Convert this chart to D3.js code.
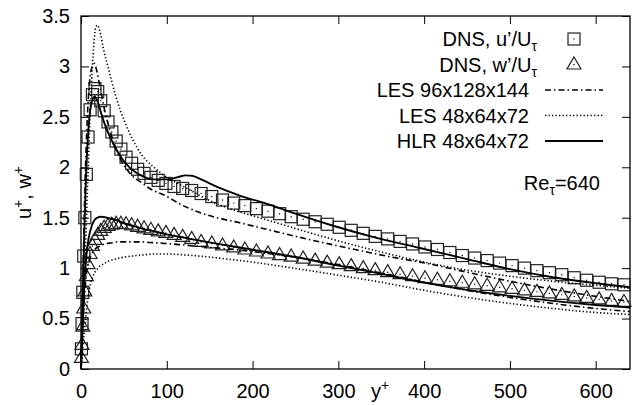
<!DOCTYPE html>
<html>
<head>
<meta charset="utf-8">
<script src="https://cdn.jsdelivr.net/npm/d3@7"></script>
<style>
  body { margin: 0; background: #fff; }
  svg { display: block; font-family: "Liberation Sans", Arial, sans-serif; }
</style>
</head>
<body>
<div id="chart"></div>
<script>
// DNS profiles (markers)
const dnsY = [0.5, 1.2, 2.1, 3.2, 4.5, 6.2, 8.2, 10.6, 13.3, 16.3, 19.5, 23, 27, 31.5, 36, 41, 46.5, 52.5, 59, 66,
    73.5, 81.5, 90, 99, 108.5, 118.5, 129, 140, 152.5, 165, 178, 191, 204.5, 218, 231.5, 245, 259, 273, 287, 301,
    315, 329, 343, 357.5, 372, 386.5, 401, 415.5, 430, 444.5, 459, 473.5, 488, 502.5, 517, 531.5, 546, 560.5, 575,
    589.5, 604, 618.5, 633];
const dnsU = [0.2, 0.45, 0.76, 1.12, 1.5, 1.93, 2.3, 2.57, 2.72, 2.78, 2.75, 2.66, 2.56, 2.45, 2.35, 2.26, 2.18, 2.10, 2.04, 1.98,
    1.94, 1.90, 1.87, 1.84, 1.81, 1.79, 1.77, 1.74, 1.71, 1.675, 1.645, 1.62, 1.59, 1.565, 1.54, 1.51, 1.485, 1.46, 1.435, 1.405,
    1.375, 1.345, 1.315, 1.29, 1.265, 1.24, 1.21, 1.185, 1.155, 1.125, 1.10, 1.075, 1.05, 1.025, 1.0, 0.975, 0.955, 0.935, 0.905,
    0.88, 0.86, 0.845, 0.835];
const dnsW = [0.11, 0.24, 0.42, 0.6, 0.77, 0.92, 1.04, 1.14, 1.22, 1.28, 1.33, 1.37, 1.40, 1.42, 1.43, 1.44, 1.44, 1.435, 1.425, 1.41,
    1.395, 1.38, 1.365, 1.35, 1.33, 1.31, 1.29, 1.26, 1.245, 1.225, 1.205, 1.185, 1.165, 1.145, 1.13, 1.115, 1.095, 1.075, 1.055, 1.04,
    1.02, 1.0, 0.98, 0.96, 0.94, 0.92, 0.90, 0.885, 0.87, 0.855, 0.84, 0.825, 0.81, 0.795, 0.78, 0.765, 0.75, 0.735, 0.72,
    0.705, 0.69, 0.675, 0.665];

// LES 96x128x144 (dash-dot)
const les96Y = [0, 2, 4, 6, 8, 10, 13, 15.5, 18, 22, 28, 35, 45, 58, 72, 80, 98, 119, 139, 158, 185, 209, 263, 300, 333, 368, 395, 450, 500, 550, 600, 640];
const les96U = [0, 0.8, 1.6, 2.2, 2.6, 2.85, 3.0, 3.03, 2.97, 2.8, 2.55, 2.33, 2.1, 1.93, 1.84, 1.79, 1.72, 1.62, 1.55, 1.50, 1.45, 1.40, 1.29, 1.22, 1.16, 1.10, 1.06, 0.96, 0.87, 0.79, 0.72, 0.67];
const les96W = [0, 0.4, 0.72, 0.92, 1.03, 1.09, 1.15, 1.18, 1.20, 1.22, 1.24, 1.25, 1.26, 1.26, 1.26, 1.255, 1.245, 1.23, 1.215, 1.20, 1.18, 1.155, 1.09, 1.035, 0.98, 0.92, 0.87, 0.78, 0.71, 0.65, 0.60, 0.57];

// LES 48x64x72 (dotted)
const les48Y = [0, 4, 8, 11, 14, 17, 19, 22, 26, 32, 40, 51, 60, 71, 85, 100, 115, 130, 150, 170, 200, 224, 263, 300, 350, 400, 450, 500, 550, 600, 640];
const les48U = [0, 0.9, 1.9, 2.6, 3.1, 3.38, 3.41, 3.35, 3.18, 2.98, 2.72, 2.45, 2.28, 2.12, 2.0, 1.9, 1.83, 1.76, 1.67, 1.60, 1.52, 1.46, 1.36, 1.27, 1.16, 1.06, 0.98, 0.92, 0.87, 0.83, 0.80];
const les48W = [0, 0.38, 0.7, 0.84, 0.92, 0.97, 0.99, 1.02, 1.04, 1.07, 1.09, 1.11, 1.12, 1.13, 1.14, 1.14, 1.135, 1.125, 1.11, 1.09, 1.06, 1.03, 0.98, 0.93, 0.86, 0.78, 0.71, 0.65, 0.60, 0.56, 0.54];

// HLR 48x64x72 (solid)
const hlrY = [0, 2, 4, 6, 9, 13, 16, 19, 23, 28, 35, 43, 52, 62, 72, 85, 100, 112, 122, 130, 140, 160, 185, 216, 250, 294, 340, 395, 450, 500, 550, 600, 640];
const hlrU = [0, 0.7, 1.4, 1.95, 2.42, 2.66, 2.70, 2.66, 2.55, 2.42, 2.28, 2.15, 2.04, 1.96, 1.91, 1.88, 1.88, 1.90, 1.92, 1.915, 1.88, 1.80, 1.72, 1.64, 1.54, 1.42, 1.31, 1.20, 1.09, 0.99, 0.91, 0.85, 0.81];
const hlrW = [0, 0.45, 0.85, 1.1, 1.3, 1.43, 1.48, 1.5, 1.51, 1.505, 1.49, 1.47, 1.44, 1.415, 1.39, 1.365, 1.335, 1.315, 1.30, 1.285, 1.27, 1.24, 1.205, 1.16, 1.11, 1.035, 0.96, 0.865, 0.785, 0.725, 0.675, 0.635, 0.61];

const xTicks = [0, 100, 200, 300, 400, 500, 600];
const yTicks = [0, 0.5, 1, 1.5, 2, 2.5, 3, 3.5];

const W = 639, H = 405;
const svg = d3.select("#chart").append("svg")
    .attr("width", W)
    .attr("height", H);

svg.append("rect").attr("width", W).attr("height", H).attr("fill", "#fff");

const x = d3.scaleLinear().domain([0, 640]).range([81, 630]);
const y = d3.scaleLinear().domain([0, 3.5]).range([369, 16]);

const FONT = "20px";

// Axes, ticks pointing inward on all four sides
const styleAxis = g => {
    g.select(".domain").remove();
    g.attr("font-family", null).attr("font-size", null);
    g.selectAll("line").attr("stroke", "#000").attr("stroke-width", 1);
    g.selectAll("text").attr("fill", "#000").style("font-size", FONT);
};

svg.append("g")
    .attr("transform", `translate(0,${y(0)})`)
    .call(d3.axisBottom(x).tickValues(xTicks).tickSizeInner(-8).tickSizeOuter(0).tickPadding(15))
    .call(styleAxis);

svg.append("g")
    .attr("transform", `translate(0,${y(3.5)})`)
    .call(d3.axisTop(x).tickValues(xTicks).tickSizeInner(-8).tickSizeOuter(0).tickFormat(""))
    .call(styleAxis);

svg.append("g")
    .attr("transform", `translate(${x(0)},0)`)
    .call(d3.axisLeft(y).tickValues(yTicks).tickSizeInner(-8).tickSizeOuter(0).tickPadding(11).tickFormat(d => d))
    .call(styleAxis);

svg.append("g")
    .attr("transform", `translate(${x(640)},0)`)
    .call(d3.axisRight(y).tickValues(yTicks).tickSizeInner(-8).tickSizeOuter(0).tickFormat(""))
    .call(styleAxis);

// frame
svg.append("rect")
    .attr("x", x(0))
    .attr("y", y(3.5))
    .attr("width", x(640) - x(0))
    .attr("height", y(0) - y(3.5))
    .attr("fill", "none")
    .attr("stroke", "#000")
    .attr("stroke-width", 1.3);

// Axis labels
const xl = svg.append("text")
    .attr("x", 371)
    .attr("y", 398)
    .style("font-size", FONT);
xl.append("tspan").text("y");
xl.append("tspan").attr("dy", -8).style("font-size", "14px").text("+");

const yl = svg.append("text")
    .attr("transform", `translate(31,${(y(0) + y(3.5)) / 2}) rotate(-90)`)
    .attr("text-anchor", "middle")
    .style("font-size", FONT);
yl.append("tspan").text("u");
yl.append("tspan").attr("dy", -8).style("font-size", "14px").text("+");
yl.append("tspan").attr("dy", 8).text(", w");
yl.append("tspan").attr("dy", -8).style("font-size", "14px").text("+");

// Markers
const square = (g, cx, cy) => {
    g.append("rect")
        .attr("x", cx - 6).attr("y", cy - 6)
        .attr("width", 12).attr("height", 12)
        .attr("fill", "none").attr("stroke", "#222").attr("stroke-width", 1.2);
    g.append("circle").attr("cx", cx).attr("cy", cy).attr("r", 0.7).attr("fill", "#000");
};
const triangle = (g, cx, cy) => {
    g.append("path")
        .attr("d", `M${cx},${cy - 7.5}L${cx + 7},${cy + 4.5}L${cx - 7},${cy + 4.5}Z`)
        .attr("fill", "none").attr("stroke", "#222").attr("stroke-width", 1.2);
    g.append("circle").attr("cx", cx).attr("cy", cy).attr("r", 0.7).attr("fill", "#000");
};

const gSq = svg.append("g");
dnsY.forEach((d, i) => square(gSq, x(d), y(dnsU[i])));
const gTr = svg.append("g");
dnsY.forEach((d, i) => triangle(gTr, x(d), y(dnsW[i])));

// Lines
const line = d3.line().x(d => x(d[0])).y(d => y(d[1])).curve(d3.curveMonotoneX);

const styles = {
    les96: { dash: "6,3,1.5,3", width: 1.6 },
    les48: { dash: "1.3,2.2", width: 1.6 },
    hlr: { dash: null, width: 1.9 }
};

const drawLine = (xs, vs, st) => {
    svg.append("path")
        .datum(d3.zip(xs, vs))
        .attr("d", line)
        .attr("fill", "none")
        .attr("stroke", "#000")
        .attr("stroke-width", st.width)
        .attr("stroke-dasharray", st.dash);
};

drawLine(les96Y, les96U, styles.les96);
drawLine(les96Y, les96W, styles.les96);
drawLine(les48Y, les48U, styles.les48);
drawLine(les48Y, les48W, styles.les48);
drawLine(hlrY, hlrU, styles.hlr);
drawLine(hlrY, hlrW, styles.hlr);

// Legend
const legendRows = [
    { label: "DNS, u\u2019/U", sub: "\u03c4", kind: "square" },
    { label: "DNS, w\u2019/U", sub: "\u03c4", kind: "triangle" },
    { label: "LES 96x128x144", kind: "les96" },
    { label: "LES 48x64x72", kind: "les48" },
    { label: "HLR 48x64x72", kind: "hlr" }
];

const lg = svg.append("g");
legendRows.forEach((r, i) => {
    const cy = 39 + i * 25.5;
    const t = lg.append("text")
        .attr("x", r.sub ? 537 : 529)
        .attr("y", cy + 7)
        .attr("text-anchor", "end")
        .style("font-size", FONT);
    t.append("tspan").text(r.label);
    if (r.sub) t.append("tspan").attr("dy", 5).style("font-size", "14px").text(r.sub);

    if (r.kind === "square") square(lg, 574, cy);
    else if (r.kind === "triangle") triangle(lg, 574, cy);
    else {
        lg.append("line")
            .attr("x1", 545).attr("x2", 603)
            .attr("y1", cy).attr("y2", cy)
            .attr("stroke", "#000")
            .attr("stroke-width", styles[r.kind].width)
            .attr("stroke-dasharray", styles[r.kind].dash);
    }
});

// Reynolds number annotation
const re = svg.append("text")
    .attr("x", 600)
    .attr("y", 190)
    .attr("text-anchor", "end")
    .style("font-size", FONT);
re.append("tspan").text("Re");
re.append("tspan").attr("dy", 5).style("font-size", "14px").text("\u03c4");
re.append("tspan").attr("dy", -5).text("=640");
</script>
</body>
</html>
